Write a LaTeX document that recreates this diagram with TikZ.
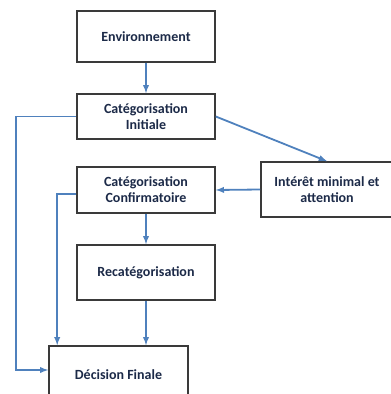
\documentclass[tikz,border=0pt]{standalone}
\usepackage{fontspec}
\setmainfont{Carlito}
\usetikzlibrary{positioning}

\definecolor{boxline}{HTML}{3A3A3A}
\definecolor{flow}{HTML}{4F81BD}
\definecolor{txt}{HTML}{1C2A48}

\tikzset{
  etape/.style={draw=boxline, line width=1.6pt, fill=white, text=txt,
    font=\fontsize{14}{16}\selectfont\bfseries, align=center,
    minimum width=138pt, inner sep=2pt},
  fleche/.style={->,>=latex, flow, line width=1.8pt}
}

\begin{document}
\begin{tikzpicture}[x=1pt, y=-1pt]

\clip (0,0) rectangle (391,394);
\useasboundingbox (0,0) rectangle (391,394);

\node[etape, minimum height=51pt] (env) at (146,36.5) {Environnement};
\node[etape, minimum height=45pt] (catinit) at (146,116.5) {Catégorisation\\Initiale};
\node[etape, minimum height=46pt] (conf) at (146,190) {Catégorisation\\Confirmatoire};
\node[etape, minimum height=55pt, minimum width=132pt] (interet) at (327,189.5) {Intérêt minimal et\\attention};
\node[etape, minimum height=55pt] (recat) at (146,272.5) {Recatégorisation};
\node[etape, minimum height=58pt, minimum width=139pt] (decision) at (118.5,375) {Décision Finale};

\draw[fleche] (env) -- (catinit);
\draw[fleche] (catinit.east) -- (interet.north);
\draw[fleche] (interet.west) -- (conf.east);
\draw[fleche] (conf) -- (recat);
\draw[fleche] (recat.south) -- (recat.south |- decision.north);

\draw[fleche] (catinit.west) -- ++(-60,0) |- ([yshift=5pt]decision.west);
\draw[fleche] ([yshift=-4pt]conf.west) -| ([xshift=9pt]decision.north west);

\end{tikzpicture}
\end{document}
